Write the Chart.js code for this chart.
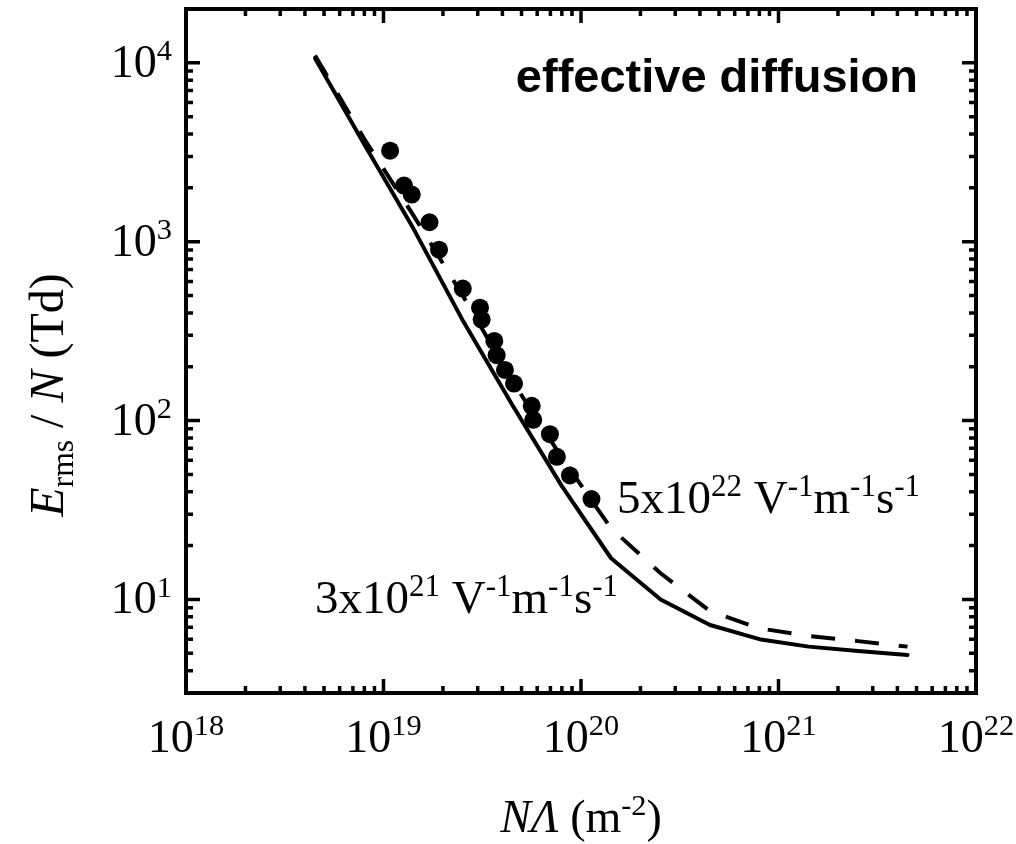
<!DOCTYPE html>
<html>
<head>
<meta charset="utf-8">
<script src="https://cdn.jsdelivr.net/npm/chart.js@4/dist/chart.umd.min.js"></script>
<style>
  html, body { margin: 0; padding: 0; background: #fff; }
  #wrap { width: 1016px; height: 844px; position: relative; }
</style>
</head>
<body>
<div id="wrap"><canvas id="c" width="1016" height="844"></canvas></div>
<script>
// Reduced density N·Λ (m^-2) at which the model curves are evaluated
const nLambda = [4.5e18, 8e18, 1.42e19, 2.53e19, 4.5e19, 8e19, 1.42e20, 2.53e20, 4.5e20, 8e20, 1.42e21, 2.53e21, 4.5e21];
// E_rms/N (Td) for mobility 3x10^21 V^-1 m^-1 s^-1 (solid)
const eOverNLowMob = [10600, 3500, 1180, 360, 122, 43, 17, 10, 7.2, 6.0, 5.45, 5.15, 4.9];
// E_rms/N (Td) for mobility 5x10^22 V^-1 m^-1 s^-1 (dashed)
const eOverNHighMob = [11000, 3750, 1400, 495, 166, 62, 25, 14, 8.6, 6.9, 6.25, 5.85, 5.45];
// Measured breakdown points
const measNLambda = [1.08e19, 1.27e19, 1.39e19, 1.71e19, 1.91e19, 2.52e19, 3.08e19, 3.14e19, 3.64e19, 3.74e19, 4.12e19, 4.58e19, 5.63e19, 5.73e19, 6.96e19, 7.55e19, 8.79e19, 1.13e20];
const measEOverN = [3230, 2060, 1835, 1285, 902, 547, 428, 367, 279, 232, 192, 161, 121, 101, 84, 62.7, 49.4, 36.4];

// Axis decades and their exponent labels
const xDecades = [1e18, 1e19, 1e20, 1e21, 1e22];
const xExponents = ['18', '19', '20', '21', '22'];
const yDecades = [1e1, 1e2, 1e3, 1e4];
const yExponents = ['1', '2', '3', '4'];
const xRange = [1e18, 1e22];
const yRange = [3, 20000];

const SERIF = '"Liberation Serif", "Times New Roman", serif';
const SANS = '"Liberation Sans", Arial, sans-serif';

const toPts = (xs, ys) => xs.map((x, i) => ({ x: x, y: ys[i] }));

// Draws a run of text pieces with optional italic / superscript / subscript
function drawRich(ctx, parts, x, y, align, size, family, weight) {
  const fontOf = p => {
    const s = (p.sup || p.sub) ? size * 0.66 : size;
    return (p.it ? 'italic ' : '') + (weight || 'normal') + ' ' + s + 'px ' + family;
  };
  let total = 0;
  parts.forEach(p => { ctx.font = fontOf(p); total += ctx.measureText(p.t).width; });
  let cx = align === 'center' ? x - total / 2 : align === 'right' ? x - total : x;
  ctx.textAlign = 'left';
  ctx.textBaseline = 'alphabetic';
  parts.forEach(p => {
    ctx.font = fontOf(p);
    let dy = 0;
    if (p.sup) dy = -size * 0.36;
    if (p.sub) dy = size * 0.2;
    ctx.fillText(p.t, cx, y + dy);
    cx += ctx.measureText(p.t).width;
  });
}

const framePlugin = {
  id: 'frameTicks',
  afterDraw(chart) {
    const ctx = chart.ctx;
    const a = chart.chartArea;
    const xs = chart.scales.x, ys = chart.scales.y;
    ctx.save();
    ctx.fillStyle = '#000';
    ctx.strokeStyle = '#000';

    // minor and major ticks, pointing inward on all four sides
    ctx.lineWidth = 3.5;
    ctx.lineCap = 'butt';
    const majLen = 14, minLen = 7;
    for (let d = 0; d < xDecades.length; d++) {
      for (let m = 1; m <= 9; m++) {
        const v = xDecades[d] * m;
        if (v < xRange[0] || v > xRange[1]) continue;
        const px = xs.getPixelForValue(v);
        const len = m === 1 ? majLen : minLen;
        ctx.beginPath();
        ctx.moveTo(px, a.bottom); ctx.lineTo(px, a.bottom - len);
        ctx.moveTo(px, a.top); ctx.lineTo(px, a.top + len);
        ctx.stroke();
      }
    }
    const yStarts = [1, 10, 100, 1000, 10000];
    yStarts.forEach(dec => {
      for (let m = 1; m <= 9; m++) {
        const v = dec * m;
        if (v < yRange[0] || v > yRange[1]) continue;
        const py = ys.getPixelForValue(v);
        const len = m === 1 ? majLen : minLen;
        ctx.beginPath();
        ctx.moveTo(a.left, py); ctx.lineTo(a.left + len, py);
        ctx.moveTo(a.right, py); ctx.lineTo(a.right - len, py);
        ctx.stroke();
      }
    });

    // frame
    ctx.lineWidth = 4;
    ctx.strokeRect(a.left, a.top, a.right - a.left, a.bottom - a.top);

    // tick labels
    const tsize = 46;
    xDecades.forEach((v, i) => {
      drawRich(ctx, [{ t: '10' }, { t: xExponents[i], sup: true }], xs.getPixelForValue(v), a.bottom + 59, 'center', tsize, SERIF);
    });
    yDecades.forEach((v, i) => {
      drawRich(ctx, [{ t: '10' }, { t: yExponents[i], sup: true }], a.left - 14, ys.getPixelForValue(v) + 14, 'right', tsize, SERIF);
    });

    // axis titles
    drawRich(ctx, [{ t: 'N', it: true }, { t: '\u039B', it: true }, { t: ' (m' }, { t: '-2', sup: true }, { t: ')' }],
      (a.left + a.right) / 2, 832, 'center', tsize, SERIF);
    ctx.save();
    ctx.translate(63, 395);
    ctx.rotate(-Math.PI / 2);
    drawRich(ctx, [{ t: 'E', it: true }, { t: 'rms', sub: true }, { t: ' / ' }, { t: 'N', it: true }, { t: ' (Td)' }],
      0, 0, 'center', 48, SERIF);
    ctx.restore();

    // annotations
    drawRich(ctx, [{ t: 'effective diffusion' }], 918, 92, 'right', 47, SANS, 'bold');
    drawRich(ctx, [{ t: '5x10' }, { t: '22', sup: true }, { t: ' V' }, { t: '-1', sup: true }, { t: 'm' }, { t: '-1', sup: true }, { t: 's' }, { t: '-1', sup: true }],
      617, 513, 'left', 47, SERIF);
    drawRich(ctx, [{ t: '3x10' }, { t: '21', sup: true }, { t: ' V' }, { t: '-1', sup: true }, { t: 'm' }, { t: '-1', sup: true }, { t: 's' }, { t: '-1', sup: true }],
      315, 613, 'left', 47, SERIF);
    ctx.restore();
  }
};

new Chart(document.getElementById('c'), {
  type: 'scatter',
  data: {
    datasets: [
      {
        label: '3x10^21',
        data: toPts(nLambda, eOverNLowMob),
        showLine: true,
        borderColor: '#000',
        borderWidth: 4,
        borderCapStyle: 'round',
        borderJoinStyle: 'round',
        pointRadius: 0,
        order: 3
      },
      {
        label: '5x10^22',
        data: toPts(nLambda, eOverNHighMob),
        showLine: true,
        borderColor: '#000',
        borderWidth: 4,
        borderDash: [24, 20],
        borderCapStyle: 'butt',
        pointRadius: 0,
        order: 2
      },
      {
        label: 'measured',
        data: toPts(measNLambda, measEOverN),
        showLine: false,
        pointRadius: 9,
        pointBackgroundColor: '#000',
        pointBorderColor: '#000',
        pointBorderWidth: 0,
        order: 1
      }
    ]
  },
  options: {
    responsive: false,
    animation: false,
    devicePixelRatio: 1,
    layout: { padding: { left: 186, right: 40, top: 9, bottom: 151 } },
    plugins: { legend: { display: false }, tooltip: { enabled: false } },
    scales: {
      x: { type: 'logarithmic', min: xRange[0], max: xRange[1], display: false },
      y: { type: 'logarithmic', min: yRange[0], max: yRange[1], display: false }
    }
  },
  plugins: [framePlugin]
});
</script>
</body>
</html>
